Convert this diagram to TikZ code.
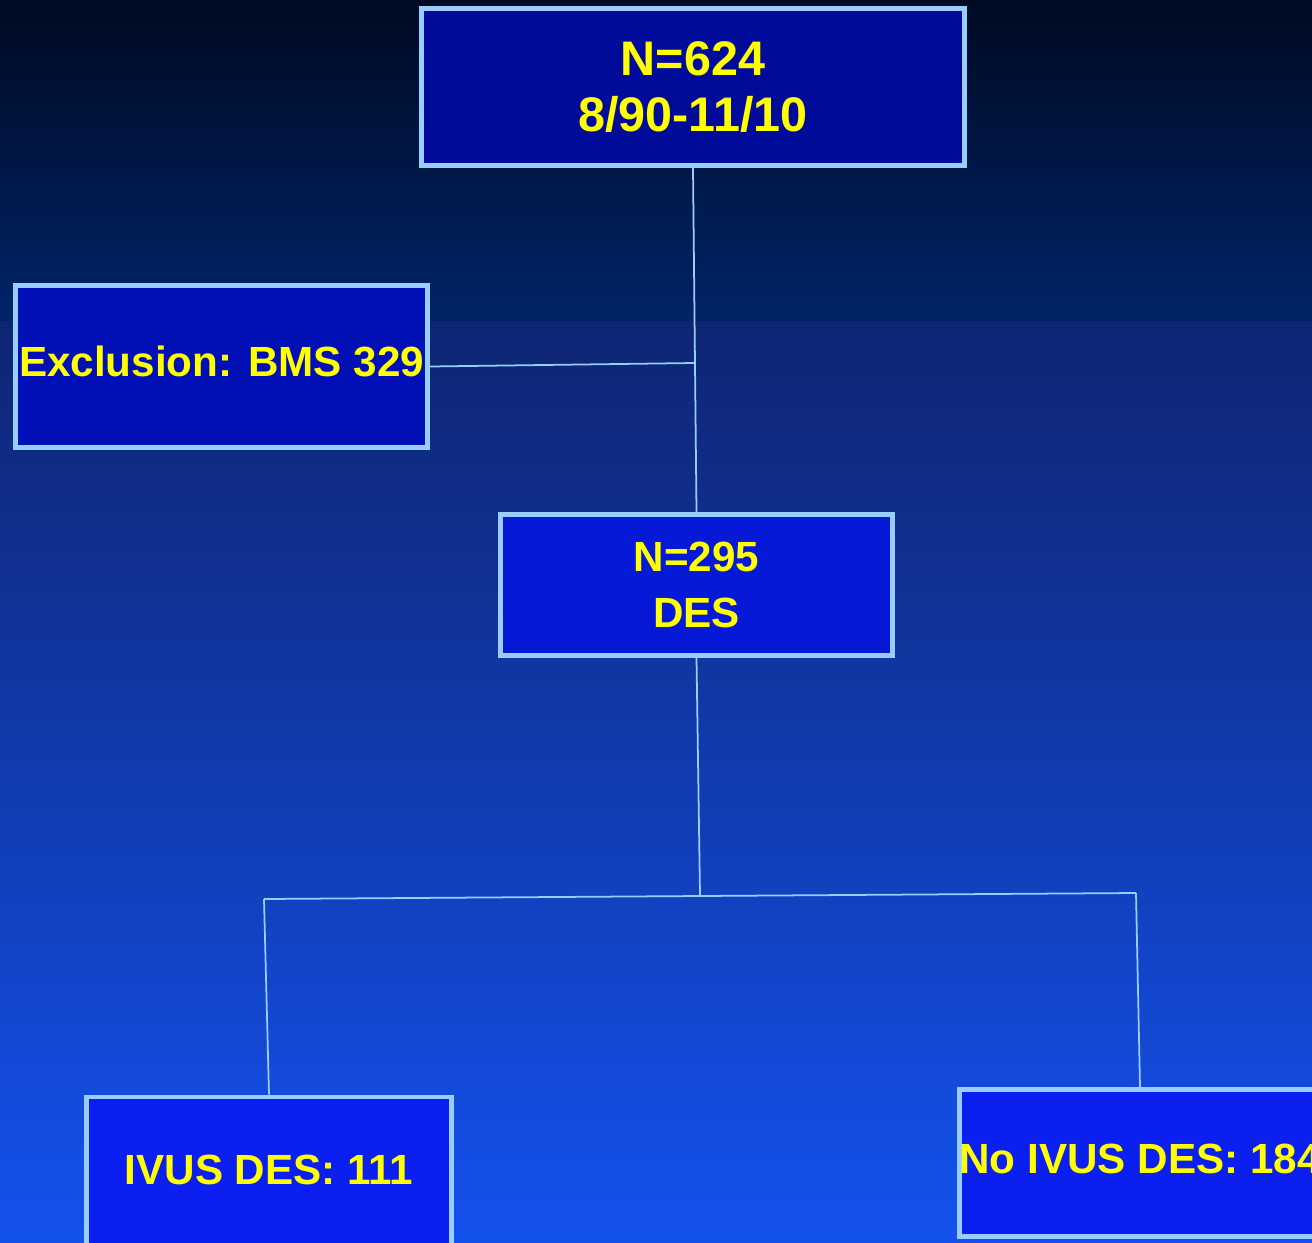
\documentclass[tikz,border=0pt]{standalone}
\usepackage{fontspec}
\setmainfont{Liberation Sans}
\usepackage{tikz}
\usetikzlibrary{positioning}
\definecolor{fcBgTop}{HTML}{000A22}
\definecolor{fcBgBand}{HTML}{002468}
\definecolor{fcBgMid}{HTML}{0E2572}
\definecolor{fcBgBot}{HTML}{1452EE}
\definecolor{fcFrame}{HTML}{99CCFF}
\definecolor{fcText}{HTML}{FFFF00}
\definecolor{fcBoxA}{HTML}{000C99}
\definecolor{fcBoxB}{HTML}{0010B4}
\definecolor{fcBoxC}{HTML}{0519D6}
\definecolor{fcBoxD}{HTML}{0B1FF0}
% bold face: size, skip
\newcommand{\boxfont}[2]{\bfseries\fontsize{#1}{#2}\selectfont}

\begin{document}
\begin{tikzpicture}[x=0.01cm, y=-0.01cm,
  flowbox/.style={draw=fcFrame, line width=1.4pt, text=fcText, align=center, inner sep=0pt},
  link/.style={fcFrame, line width=0.5pt}]
  % background
  \path[use as bounding box, clip] (0,0) rectangle (1312,1242);
  \shade[top color=fcBgTop, bottom color=fcBgBand] (0,0) rectangle (1312,321);
  \shade[top color=fcBgMid, bottom color=fcBgBot] (0,321) rectangle (1312,1242);
  % boxes
  \node[flowbox, fill=fcBoxA, minimum width=5.43cm, minimum height=1.57cm,
        font=\boxfont{13.8pt}{16.1pt}] (all) at (693,87) {N=624\\8/90-11/10};
  \node[flowbox, fill=fcBoxB, minimum width=4.12cm, minimum height=1.62cm,
        text height=0.3cm, text depth=0.1cm,
        font=\boxfont{12pt}{14pt}] (excl) at (221.5,366.5) {Exclusion: BMS 329};
  \node[flowbox, fill=fcBoxC, minimum width=3.92cm, minimum height=1.41cm,
        font=\boxfont{12pt}{16.1pt}] (des) at (696.5,585) {N=295\\DES};
  \node[flowbox, fill=fcBoxD, minimum width=3.65cm, text height=0.875cm, text depth=1cm,
        anchor=north, font=\boxfont{12pt}{15pt}] (ivus) at (269,1094.5) {IVUS DES: 111};
  \node[flowbox, fill=fcBoxD, minimum width=3.6cm, minimum height=1.47cm,
        text height=0.31cm, text depth=0.1cm,
        font=\boxfont{12pt}{15pt}] (noivus) at (1140,1163) {No IVUS DES: 184};
  % junctions
  \coordinate (jExcl) at (694,363);
  \coordinate (jDes) at (700,895);
  \coordinate (jLeft) at (264,899);
  \coordinate (jRight) at (1136,893);
  % connectors
  \draw[link] (all.south) -- (des.north);
  \draw[link] (excl.east) -- (jExcl);
  \draw[link] (des.south) -- (jDes);
  \draw[link] (jLeft) -- (jRight);
  \draw[link] (jLeft) -- (ivus.north);
  \draw[link] (jRight) -- (noivus.north);
\end{tikzpicture}
\end{document}
